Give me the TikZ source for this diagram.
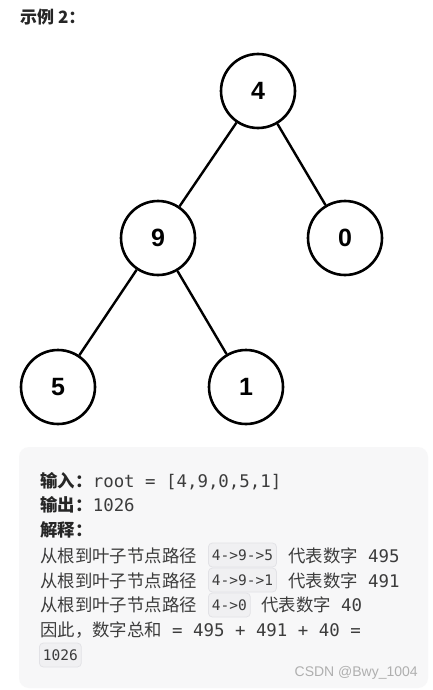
\documentclass[tikz,border=0pt]{standalone}
\usepackage{fontspec}
\setmainfont{Noto Sans CJK SC}
\setmonofont{DejaVu Sans Mono}
\newfontfamily\digitfont{Liberation Sans}
\newfontfamily\wmfont{Liberation Sans}
\definecolor{txt}{RGB}{60,60,60}
\definecolor{lbl}{RGB}{38,38,38}
\definecolor{panel}{RGB}{247,247,248}
\definecolor{codebg}{RGB}{240,240,242}
\definecolor{codeln}{RGB}{226,226,230}
\definecolor{wm}{RGB}{175,175,175}
\tikzset{
  treenode/.style={circle, draw=black, line width=2.6pt, minimum size=74pt, inner sep=0pt,
    font=\digitfont\fontsize{25}{25}\selectfont\bfseries},
  edge/.style={draw=black, line width=2.4pt},
  plain/.style={anchor=base west, inner sep=0pt, text=txt, font=\fontsize{17.4}{20}\selectfont},
  bold/.style={anchor=base west, inner sep=0pt, text=lbl, font=\fontsize{17.4}{20}\selectfont\bfseries},
  mono/.style={anchor=base west, inner sep=0pt, text=txt, font=\ttfamily\fontsize{17.4}{20}\selectfont},
  codebox/.style={anchor=west, fill=codebg, draw=codeln, line width=0.8pt, rounded corners=4pt,
    minimum height=24pt, inner xsep=3.5pt, inner ysep=0pt, text=txt,
    font=\ttfamily\fontsize{14.5}{16}\selectfont}
}
\begin{document}
\begin{tikzpicture}[x=1pt,y=-1pt]
\useasboundingbox (0,0) rectangle (433,690);
\fill[white] (0,0) rectangle (433,690);
% title
\node[bold, font=\fontsize{17}{18}\selectfont\bfseries] (title) at (20,24) {示例 2：};
% tree
\node[treenode] (n4) at (258,91) {4};
\node[treenode] (n9) at (158,238) {9};
\node[treenode] (n0) at (345,238) {0};
\node[treenode] (n5) at (58,387) {5};
\node[treenode] (n1) at (246,387) {1};
\draw[edge] (n4) -- (n9);
\draw[edge] (n4) -- (n0);
\draw[edge] (n9) -- (n5);
\draw[edge] (n9) -- (n1);
% panel
\fill[panel, rounded corners=10pt] (19,447) rectangle (428,688);
% lines
\node[bold] (in) at (40,487) {输入：};
\node[mono] (inv) at (in.base east) {root = [4,9,0,5,1]};
\node[bold] (out) at (40,511) {输出：};
\node[mono] (outv) at (out.base east) {1026};
\node[bold] (ex) at (40,536) {解释：};
% line 1
\node[plain] (a1) at (40,562) {从根到叶子节点路径};
\node[codebox] (c1) at (208,555) {4->9->5};
\node[plain] (d1) at (288,562) {代表数字};
\node[mono] (v1) at (368,562) {495};
% line 2
\node[plain] (a2) at (40,587) {从根到叶子节点路径};
\node[codebox] (c2) at (208,580) {4->9->1};
\node[plain] (d2) at (288,587) {代表数字};
\node[mono] (v2) at (368,587) {491};
% line 3
\node[plain] (a3) at (40,611) {从根到叶子节点路径};
\node[codebox] (c3) at (208,605) {4->0};
\node[plain] (d3) at (261,611) {代表数字};
\node[mono] (v3) at (341,611) {40};
% line 4
\node[plain] (a4) at (40,636) {因此，数字总和};
\node[mono] (s4) at (172,636) {= 495 + 491 + 40 =};
\node[codebox] (c5) at (39,655) {1026};
% watermark
\node[anchor=base east, inner sep=0pt, text=wm, font=\wmfont\fontsize{14}{16}\selectfont] (wmk) at (418,676) {CSDN @Bwy\_1004};
\end{tikzpicture}
\end{document}
